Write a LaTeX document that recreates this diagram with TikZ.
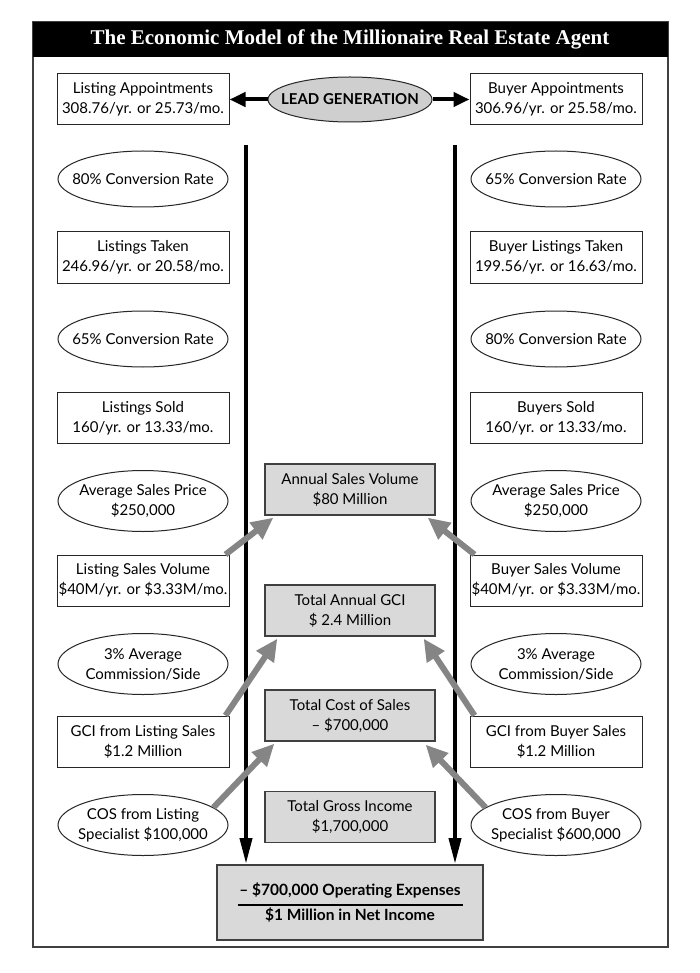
\documentclass[tikz,border=0pt]{standalone}
\usepackage{fontspec}
\setmainfont{Lato}
\newfontfamily\titlefont{Liberation Serif}
\usetikzlibrary{shapes.geometric,arrows.meta,calc}
\definecolor{boxgray}{HTML}{D9D9D9}
\definecolor{leadgray}{HTML}{CFCFCF}
\definecolor{arrowgray}{HTML}{858585}
\begin{document}
\begin{tikzpicture}[x=1pt,y=-1pt,
  bodyfont/.style={font=\fontsize{15}{20}\selectfont},
  rbox/.style={draw=black!85, line width=1pt, fill=white, minimum width=172, minimum height=51, inner sep=0pt, align=center, bodyfont},
  ebox/.style={ellipse, draw=black!85, line width=1pt, fill=white, minimum width=170, minimum height=56, inner xsep=-60pt, inner ysep=-30pt, align=center, bodyfont},
  ebigbox/.style={ebox, minimum height=61},
  cbox/.style={draw=black!75, line width=1.3pt, fill=boxgray, minimum width=170, minimum height=51, inner sep=0pt, align=center, bodyfont},
  blackarrow/.style={line width=4pt, -{Triangle[length=26pt,width=12pt]}},
  leadarrow/.style={line width=4pt, -{Triangle[length=16pt,width=14pt]}},
  grayarrow/.style={draw=arrowgray, line width=6pt, -{Triangle[length=22pt,width=20pt]}}
]
\useasboundingbox (0,0) rectangle (700,973);
\fill[white] (0,0) rectangle (700,973);
% frame and title
\draw[line width=1.5pt, draw=black!75] (33,22) rectangle (668,947);
\fill[black] (33,22) rectangle (668,57);
\node[text=white, font=\titlefont\bfseries\fontsize{21}{24}\selectfont] (title) at (350,39.5) {The Economic Model of the Millionaire Real Estate Agent};

% lead generation
\node[ellipse, draw=black!85, line width=1pt, fill=leadgray, minimum width=164, minimum height=45, inner xsep=-60pt, inner ysep=-20pt, font=\bfseries\fontsize{15}{18}\selectfont] (lead) at (350,99.5) {LEAD GENERATION};

% left column
\node[rbox] (la) at (143,99.5) {Listing Appointments\\308.76/yr. or 25.73/mo.};
\node[ebox] (lc1) at (143,179) {80\% Conversion Rate};
\node[rbox] (lt) at (143,257.5) {Listings Taken\\246.96/yr. or 20.58/mo.};
\node[ebox] (lc2) at (143,339) {65\% Conversion Rate};
\node[rbox] (ls) at (143,418) {Listings Sold\\160/yr. or 13.33/mo.};
\node[ebigbox] (lp) at (143,501) {Average Sales Price\\\$250,000};
\node[rbox] (lsv) at (143,580.5) {Listing Sales Volume\\\$40M/yr. or \$3.33M/mo.};
\node[ebigbox] (lcm) at (143,664) {3\% Average\\Commission/Side};
\node[rbox] (gcil) at (143,741.5) {GCI from Listing Sales\\\$1.2 Million};
\node[ebigbox] (cosl) at (143,825) {COS from Listing\\Specialist \$100,000};

% right column
\node[rbox] (ba) at (556,99.5) {Buyer Appointments\\306.96/yr. or 25.58/mo.};
\node[ebox] (rc1) at (556,179) {65\% Conversion Rate};
\node[rbox] (bt) at (556,257.5) {Buyer Listings Taken\\199.56/yr. or 16.63/mo.};
\node[ebox] (rc2) at (556,339) {80\% Conversion Rate};
\node[rbox] (bs) at (556,418) {Buyers Sold\\160/yr. or 13.33/mo.};
\node[ebigbox] (rp) at (556,501) {Average Sales Price\\\$250,000};
\node[rbox] (bsv) at (556,580.5) {Buyer Sales Volume\\\$40M/yr. or \$3.33M/mo.};
\node[ebigbox] (rcm) at (556,664) {3\% Average\\Commission/Side};
\node[rbox] (gcir) at (556,741.5) {GCI from Buyer Sales\\\$1.2 Million};
\node[ebigbox] (cosr) at (556,825) {COS from Buyer\\Specialist \$600,000};

% center column
\node[cbox] (asv) at (350,489.5) {Annual Sales Volume\\\$80 Million};
\node[cbox] (tgci) at (350,610.5) {Total Annual GCI\\\$ 2.4 Million};
\node[cbox] (tcos) at (350,715.5) {Total Cost of Sales\\– \$700,000};
\node[cbox] (tgi) at (350,817) {Total Gross Income\\\$1,700,000};
\node[draw=black!75, line width=1.3pt, fill=boxgray, minimum width=266, minimum height=75, inner sep=0pt, align=center, font=\bfseries\fontsize{15.5}{19}\selectfont] (net) at (350,902.5)
  {– \$700,000 Operating Expenses\\[-9pt]\rule{225pt}{1.6pt}\\[-4pt]\$1 Million in Net Income};

% lead arrows
\draw[leadarrow] (lead.west) -- (la.east);
\draw[leadarrow] (lead.east) -- (ba.west);

% vertical arrows
\coordinate (vtl) at (246,145);
\coordinate (vbl) at (246,864);
\coordinate (vtr) at (455,145);
\coordinate (vbr) at (455,864);
\draw[blackarrow] (vtl) -- (vbl);
\draw[blackarrow] (vtr) -- (vbr);

% gray arrows
\draw[grayarrow] ([xshift=-4pt]lsv.north east) -- ([xshift=9pt,yshift=-2pt]asv.south west);
\draw[grayarrow] ([xshift=5pt]bsv.north west) -- ([xshift=-8pt,yshift=-2pt]asv.south east);
\draw[grayarrow] ([xshift=-4pt]gcil.north east) -- ([xshift=13pt,yshift=-2pt]tgci.south west);
\draw[grayarrow] ([xshift=5pt]gcir.north west) -- ([xshift=-12pt,yshift=-2pt]tgci.south east);
\draw[grayarrow] (cosl.14) -- ([xshift=10pt,yshift=-2pt]tcos.south west);
\draw[grayarrow] (cosr.166) -- ([xshift=-10pt,yshift=-3pt]tcos.south east);
\end{tikzpicture}
\end{document}
